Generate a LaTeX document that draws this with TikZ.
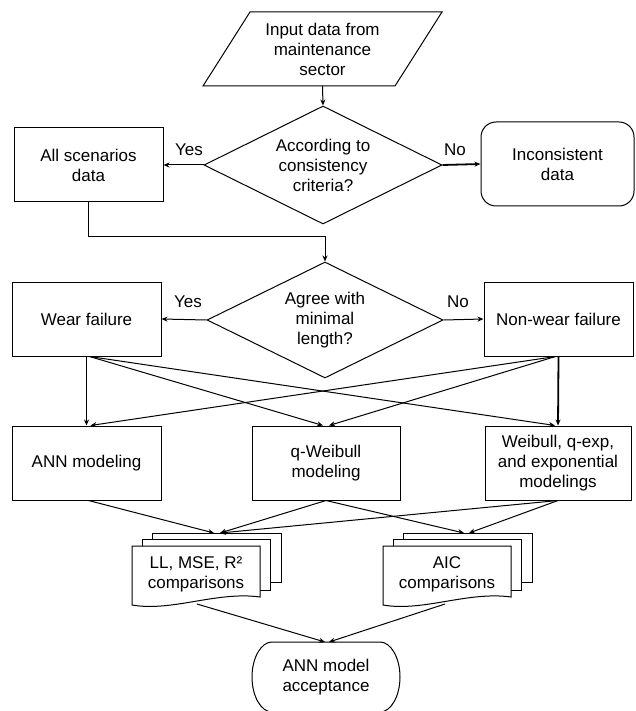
\documentclass[tikz,border=0pt]{standalone}
\usepackage{fontspec}
\setmainfont{Liberation Sans}
\usetikzlibrary{shapes.geometric,arrows.meta}
\newcommand\mdocs[2]{%
  \draw[fill=white,line width=1pt] ({#1+20},{#2-13}) rectangle ({#1+149},{#2+36});
  \draw[fill=white,line width=1pt] ({#1+10},{#2-7}) rectangle ({#1+138},{#2+44});
  \draw[fill=white,line width=1pt] (#1,#2) -- ({#1+128},#2) -- ({#1+128},{#2+51})
     .. controls ({#1+85},{#2+45}) and ({#1+40},{#2+66}) .. (#1,{#2+59}) -- cycle;
}
\begin{document}
\begin{tikzpicture}[x=1pt,y=-1pt,
  every node/.style={font=\fontsize{17}{20}\selectfont, align=center, inner sep=0pt},
  box/.style={draw, line width=1pt, minimum width=149pt, minimum height=74pt},
  dec/.style={draw, diamond, aspect=2, minimum width=238pt, minimum height=118pt, line width=1pt},
  arr/.style={-{Stealth[length=6pt,width=5pt]}, line width=1pt},
  tarr/.style={-{Stealth[length=6pt,width=5pt]}, line width=1.8pt},
]
\useasboundingbox (0,0) rectangle (636,711);
\fill[white] (0,0) rectangle (636,711);

% input parallelogram
\draw[line width=1pt] (250,12) -- (442,12) -- (395,86) -- (203,86) -- cycle;
\node[minimum height=74pt] (inp) at (322.5,49) {Input data from\\maintenance\\sector};

\node[dec] (d1) at (323,165) {According to\\consistency\\criteria?};
\node[box] (all) at (88.5,165) {All scenarios\\data};
\node[box, rounded corners=15pt, minimum width=153pt, minimum height=84pt] (inc) at (557.5,164) {Inconsistent\\data};
\node (y1) at (189,150) {Yes};
\node (n1) at (455,150) {No};

\node[dec, minimum width=236pt, minimum height=116pt] (d2) at (325,320) {Agree with\\minimal\\length?};
\node[box] (wear) at (86.5,319) {Wear failure};
\node[box] (nw) at (558.5,319) {Non-wear failure};
\node (y2) at (188,302) {Yes};
\node (n2) at (458,302) {No};

\node[box] (ann) at (86.5,463) {ANN modeling};
\node[box, minimum width=148pt] (qw) at (326,463) {q-Weibull\\modeling};
\node[box, minimum width=146pt] (wb) at (558,463) {Weibull, q-exp,\\and exponential\\modelings};

% multiple documents
\mdocs{132}{546}
\mdocs{383}{546}
\node[minimum width=128pt, minimum height=56pt] (ll) at (196,574) {LL, MSE, R²\\comparisons};
\node[minimum width=128pt, minimum height=56pt] (aic) at (447,574) {AIC\\comparisons};

% acceptance terminator
\begin{scope}
\clip (0,0) rectangle (636,711);
\draw[line width=1pt] (272,642) -- (380,642)
  .. controls (391,642) and (400,658) .. (400,677)
  .. controls (400,696) and (391,712) .. (380,712) -- (272,712)
  .. controls (261,712) and (252,696) .. (252,677)
  .. controls (252,658) and (261,642) .. (272,642) -- cycle;
\end{scope}
\node[minimum width=148pt, minimum height=70pt] (acc) at (326,677) {ANN model\\acceptance};

% coordinates
\coordinate (bend1) at (0,236);
\coordinate (llin1) at (214,533);
\coordinate (llin2) at (220,533);
\coordinate (aicin1) at (464,533);
\coordinate (aicin2) at (469,533);
\coordinate (llout) at (197,604);
\coordinate (aicout) at (445,604);
\coordinate (accin1) at (325,642);
\coordinate (accin2) at (329,642);

% connectors
\draw[arr] (inp.south) -- (d1.north);
\draw[arr] (d1.west) -- (all.east);
\draw[tarr] (d1.east) -- (inc.west);
\draw[arr] (all.south) -- (all.south |- bend1) -- (bend1 -| d2.north) -- (d2.north);
\draw[arr] (d2.west) -- (wear.east);
\draw[arr] (d2.east) -- (nw.west);

\draw[tarr] (wear.south) -- (ann.north);
\draw[arr] ([xshift=3pt]wear.south) -- ([xshift=-3pt]qw.north);
\draw[arr] ([xshift=3pt]wear.south) -- ([xshift=-3pt]wb.north);
\draw[tarr] (nw.south) -- (wb.north);
\draw[arr] ([xshift=-3pt]nw.south) -- ([xshift=3pt]qw.north);
\draw[arr] ([xshift=-3pt]nw.south) -- ([xshift=4pt]ann.north);

\draw[arr] ([xshift=2pt]ann.south) -- (llin1);
\draw[arr] (qw.south) -- (llin2);
\draw[arr] (qw.south) -- (aicin1);
\draw[arr] (wb.south) -- (llin2);
\draw[arr] (wb.south) -- (aicin2);

\draw[arr] (llout) -- (accin1);
\draw[arr] (aicout) -- (accin2);
\end{tikzpicture}
\end{document}
